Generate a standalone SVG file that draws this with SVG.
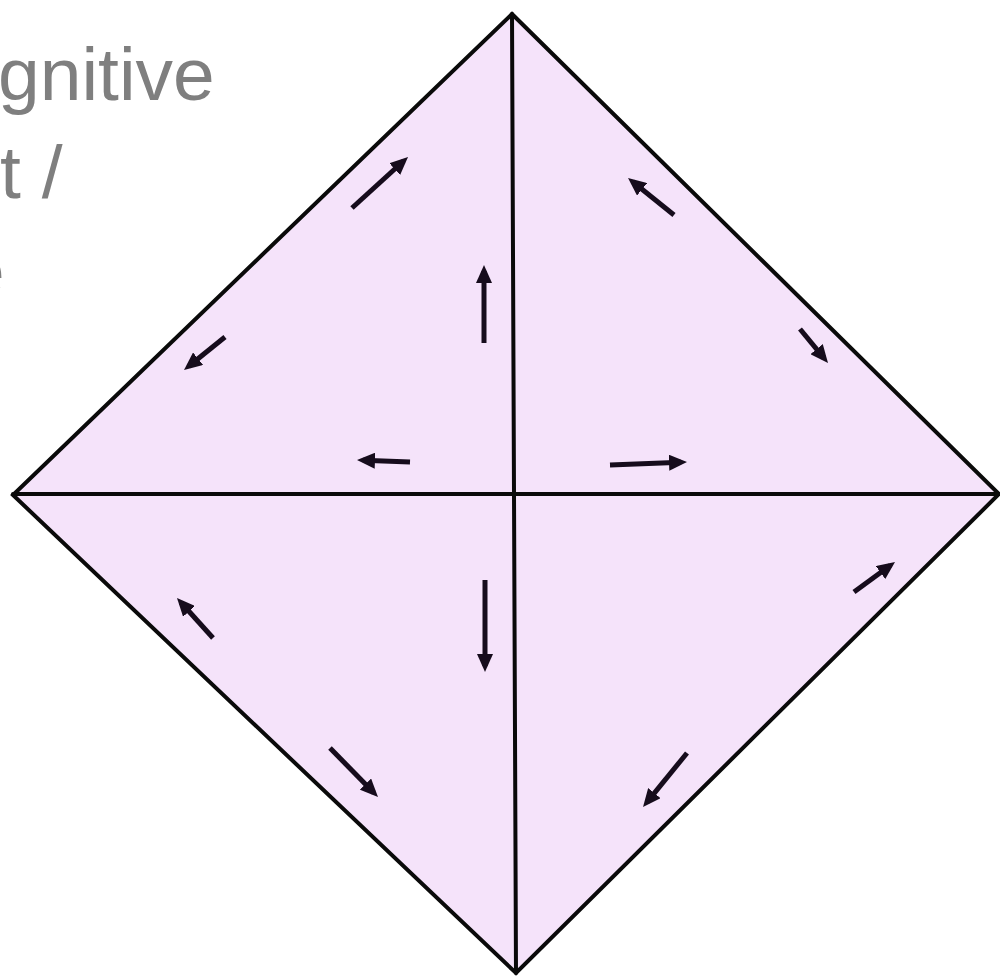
<svg xmlns="http://www.w3.org/2000/svg" width="1000" height="977" viewBox="0 0 1000 977">
  <style>
    .lbl { font-family: "Liberation Sans", Arial, sans-serif; font-size: 75px; fill: #7f7f7f; }
    .edge { stroke: #0a0a0a; stroke-width: 4; fill: none; stroke-linecap: round; }
    .arr { stroke: #160c1c; stroke-width: 5; fill: none; marker-end: url(#head); }
  </style>
  <defs>
    <marker id="head" markerUnits="userSpaceOnUse" markerWidth="19" markerHeight="16" refX="12" refY="8" orient="auto">
      <path d="M0,0 L18,8 L0,16 z" fill="#160c1c"/>
    </marker>
  </defs>
  <rect width="1000" height="977" fill="#ffffff"/>
  <g id="label">
    <text class="lbl" x="-2" y="100">gnitive</text>
    <text class="lbl" x="0" y="198">t /</text>
    <text class="lbl" x="-37" y="296">e</text>
  </g>
  <g id="diamond">
    <polygon points="512,14 999,494 516,973 13,495" fill="#f5e3fa" stroke="#0a0a0a" stroke-width="4" stroke-linejoin="miter"/>
  </g>
  <g id="connectors">
    <line class="edge" x1="512" y1="14" x2="516" y2="973"/>
    <line class="edge" x1="13" y1="494" x2="999" y2="494"/>
    <line class="arr" x1="352" y1="208" x2="403.6" y2="161"/>
    <line class="arr" x1="484" y1="343" x2="484" y2="271"/>
    <line class="arr" x1="225" y1="337" x2="188.7" y2="366.2"/>
    <line class="arr" x1="410" y1="462" x2="363" y2="460.2"/>
    <line class="arr" x1="610" y1="465" x2="681" y2="462.2"/>
    <line class="arr" x1="674" y1="215" x2="632.7" y2="181.8"/>
    <line class="arr" x1="800" y1="329" x2="824.2" y2="358.4"/>
    <line class="arr" x1="213" y1="638" x2="181" y2="602.5"/>
    <line class="arr" x1="330" y1="748" x2="373.8" y2="792.7"/>
    <line class="arr" x1="485" y1="580" x2="485" y2="666"/>
    <line class="arr" x1="854" y1="592" x2="890.2" y2="565.5"/>
    <line class="arr" x1="687" y1="753" x2="646.8" y2="802.4"/>
  </g>
</svg>
